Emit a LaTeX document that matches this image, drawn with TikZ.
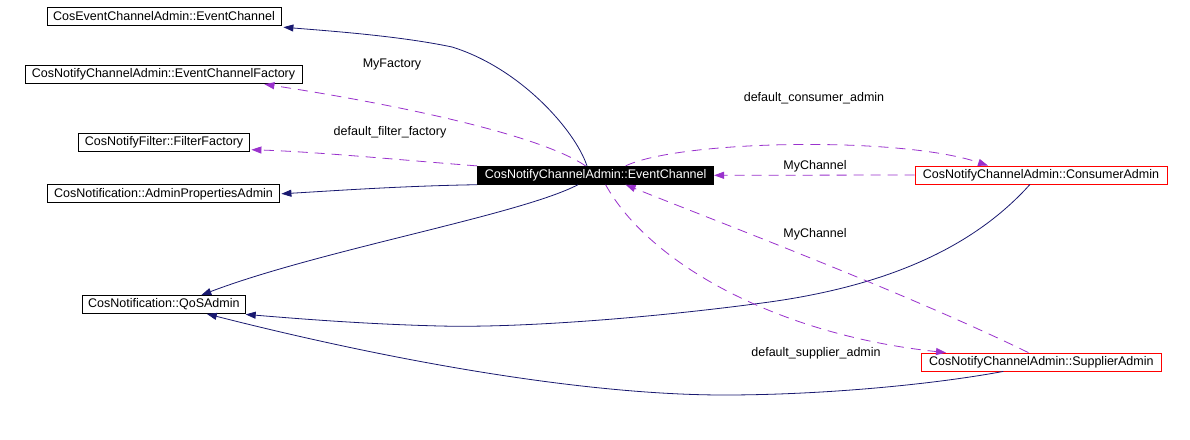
\documentclass[tikz,border=0pt]{standalone}
\usepackage{fontspec}
\setmainfont{Liberation Sans}
\usetikzlibrary{arrows.meta,calc}
\definecolor{navyc}{HTML}{191970}
\definecolor{purp}{HTML}{9A32CD}
\begin{document}
\begin{tikzpicture}[x=1pt,y=-1pt,
  box/.style={draw=black,line width=0.8pt,inner sep=0pt,minimum height=18pt,font=\fontsize{12.5}{14}\selectfont},
  redbox/.style={box,draw=red},
  mainbox/.style={box,fill=black,text=white},
  lbl/.style={inner sep=0pt,font=\fontsize{12.5}{14}\selectfont},
  inh/.style={draw=navyc,line width=0.8pt,-{Triangle[length=10pt,width=7pt,fill=navyc]}},
  use/.style={draw=purp,line width=0.8pt,dash pattern=on 10pt off 7pt,-{Triangle[length=10pt,width=7pt,fill=purp]}}
]
\useasboundingbox (0,0) rectangle (1190,439);
\fill[white] (0,0) rectangle (1190,439);
\node[box,minimum width=234pt] (ec) at (164,16.3) {CosEventChannelAdmin::EventChannel};
\node[box,minimum width=277pt] (ecf) at (163.5,74.3) {CosNotifyChannelAdmin::EventChannelFactory};
\node[box,minimum width=171pt] (ff) at (164,142) {CosNotifyFilter::FilterFactory};
\node[box,minimum width=232pt] (apa) at (163.5,193.8) {CosNotification::AdminPropertiesAdmin};
\node[mainbox,minimum width=236pt] (main) at (595.6,175.3) {CosNotifyChannelAdmin::EventChannel};
\node[redbox,minimum width=252pt] (ca) at (1041,175) {CosNotifyChannelAdmin::ConsumerAdmin};
\node[box,minimum width=163pt] (qos) at (163.8,304.5) {CosNotification::QoSAdmin};
\node[redbox,minimum width=240pt] (sa) at (1041.4,362) {CosNotifyChannelAdmin::SupplierAdmin};

\node[lbl] (l1) at (392,64) {MyFactory};
\node[lbl] (l2) at (390,132) {default\_filter\_factory};
\node[lbl] (l3) at (814,98) {default\_consumer\_admin};
\node[lbl] (l4) at (815,166) {MyChannel};
\node[lbl] (l5) at (815,234) {MyChannel};
\node[lbl] (l6) at (816,353) {default\_supplier\_admin};

% inheritance (solid navy)
\draw[inh] ($(main.north)+(-8.6,0)$) .. controls (575,130) and (520,68) .. (452,47)
  .. controls (400,36) and (330,31) .. ($(ec.south east)+(2,1.5)$);
\draw[inh] (main.south west) .. controls (400,186) and (330,191) .. ($(apa.east)+(1.5,0)$);
\draw[inh] ($(main.south)+(-17.6,0)$) .. controls (520,215) and (320,250) .. ($(qos.north)+(37.5,0)$);
\draw[inh] ($(ca.south)+(-11,0)$) .. controls (980,240) and (900,285) .. (762,303)
  .. controls (650,318) and (520,328) .. (440,326)
  .. controls (360,324) and (290,318) .. ($(qos.south east)+(0,0.5)$);
\draw[inh] ($(sa.south)+(-38,0)$) .. controls (930,385) and (820,395) .. (724,395)
  .. controls (600,395) and (420,368) .. ($(qos.south)+(43,0)$);

% usage (dashed purple)
\draw[use] ($(main.north)+(-10,0)$) .. controls (540,135) and (400,105) .. ($(ecf.south east)+(-38,0.5)$);
\draw[use] (main.north west) .. controls (400,160) and (320,152) .. ($(ff.south east)+(1.5,-1.7)$);
\draw[use] ($(main.north)+(30,0)$) .. controls (680,140) and (900,136) .. ($(ca.north)+(-53,0)$);
\draw[use] (ca.west) -- (main.east);
\draw[use] ($(main.south)+(10,0)$) .. controls (650,265) and (780,335) .. ($(sa.north west)+(25,0)$);
\draw[use] ($(sa.north)+(-13,0)$) .. controls (900,290) and (700,215) .. ($(main.south)+(30,0)$);
\end{tikzpicture}
\end{document}
